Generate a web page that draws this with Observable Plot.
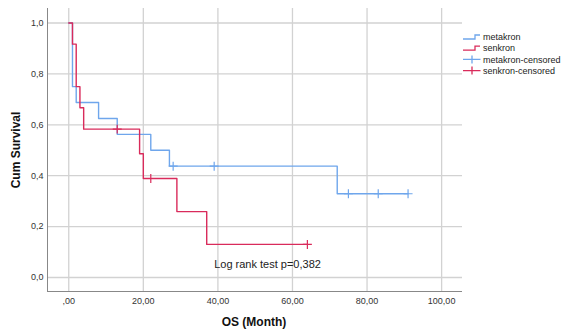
<!DOCTYPE html>
<html>
<head>
<meta charset="utf-8">
<script src="https://cdn.jsdelivr.net/npm/d3@7"></script>
<script src="https://cdn.jsdelivr.net/npm/@observablehq/plot@0.6"></script>
<style>
  html, body { margin: 0; padding: 0; background: #fff; }
  #chart { position: relative; width: 563px; height: 332px; }
  svg { font-family: "Liberation Sans", Arial, sans-serif; }
</style>
</head>
<body>
<div id="chart"></div>
<script>
// ---- data ----
const metakronTime = [0, 1, 2, 8, 13, 22, 27, 72, 91];
const metakronSurv = [1, 0.75, 0.6875, 0.625, 0.5625, 0.5, 0.4375, 0.329, 0.329];
const senkronTime = [0, 1, 2, 3, 4, 19, 20, 29, 37, 64];
const senkronSurv = [1, 0.917, 0.75, 0.667, 0.583, 0.486, 0.389, 0.259, 0.13, 0.13];
const metakronCensTime = [28, 39, 75, 83, 91];
const metakronCensSurv = [0.4375, 0.4375, 0.329, 0.329, 0.329];
const senkronCensTime = [13, 22, 64];
const senkronCensSurv = [0.583, 0.389, 0.13];
const xTicks = [0, 20, 40, 60, 80, 100];
const yTicks = [0, 0.2, 0.4, 0.6, 0.8, 1.0];
const seriesNames = ["metakron", "senkron", "metakron-censored", "senkron-censored"];
const annotation = "Log rank test p=0,382";
const xLabel = "OS (Month)";
const yLabel = "Cum Survival";

const BLUE = "#6fa6ec";
const RED = "#d92b5b";

const toRows = (t, s) => t.map((v, i) => ({t: v, s: s[i]}));
const meta = toRows(metakronTime, metakronSurv);
const senk = toRows(senkronTime, senkronSurv);
const metaC = toRows(metakronCensTime, metakronCensSurv);
const senkC = toRows(senkronCensTime, senkronCensSurv);

const fmtX = d => d === 0 ? ",00" : d.toFixed(2).replace(".", ",");
const fmtY = d => d.toFixed(1).replace(".", ",");

const plot = Plot.plot({
  width: 563,
  height: 332,
  marginLeft: 47,
  marginRight: 101,
  marginTop: 8,
  marginBottom: 41,
  style: {fontFamily: "'Liberation Sans', Arial, sans-serif", fontSize: "9px", color: "#333", background: "#fff", overflow: "visible"},
  x: {domain: [-5.7, 105.6], ticks: xTicks, tickFormat: fmtX, label: null},
  y: {domain: [-0.055, 1.057], ticks: yTicks, tickFormat: fmtY, label: null},
  marks: [
    Plot.gridX(xTicks, {stroke: "#d2d2d2", strokeOpacity: 1, strokeWidth: 1.3}),
    Plot.gridY(yTicks, {stroke: "#d2d2d2", strokeOpacity: 1, strokeWidth: 1.3}),
    Plot.axisX(xTicks, {tickSize: 0, tickPadding: 6, tickFormat: fmtX, fill: "#333", label: null}),
    Plot.axisY(yTicks, {tickSize: 0, tickPadding: 4, tickFormat: fmtY, fill: "#333", label: null}),
    Plot.ruleX([-5.7], {stroke: "#888", strokeWidth: 1}),
    Plot.ruleY([-0.055], {stroke: "#888", strokeWidth: 1}),
    Plot.line(meta, {x: "t", y: "s", curve: "step-after", stroke: BLUE, strokeWidth: 1.4}),
    Plot.line(senk, {x: "t", y: "s", curve: "step-after", stroke: RED, strokeWidth: 1.4}),
    Plot.dot(metaC, {x: "t", y: "s", symbol: "plus", r: 3, stroke: BLUE, strokeWidth: 1.2}),
    Plot.dot(senkC, {x: "t", y: "s", symbol: "plus", r: 3, stroke: RED, strokeWidth: 1.2}),
    Plot.text([annotation], {x: 39, y: 0.05, text: d => d, textAnchor: "start", fontSize: 11, fill: "#222"})
  ]
});

const svg = d3.select(plot);
// axis titles
svg.append("text")
  .attr("x", 254).attr("y", 326)
  .attr("text-anchor", "middle")
  .attr("font-size", 12).attr("font-weight", "bold").attr("fill", "#111")
  .text(xLabel);
svg.append("text")
  .attr("transform", "translate(20,150) rotate(-90)")
  .attr("text-anchor", "middle")
  .attr("font-size", 12).attr("font-weight", "bold").attr("fill", "#111")
  .text(yLabel);

// legend
const colors = [BLUE, RED, BLUE, RED];
const lg = svg.append("g").attr("transform", "translate(463,37)");
seriesNames.forEach((name, i) => {
  const g = lg.append("g").attr("transform", `translate(0,${i * 11.2})`);
  if (i < 2) {
    g.append("path").attr("d", "M0,2H12V-2H17").attr("fill", "none")
      .attr("stroke", colors[i]).attr("stroke-width", 1.3);
  } else {
    g.append("path").attr("d", "M0,0H17.5M9,-4V4").attr("fill", "none")
      .attr("stroke", colors[i]).attr("stroke-width", 1.3);
  }
  g.append("text").attr("x", 20).attr("y", 0).attr("dy", "0.35em")
    .attr("text-anchor", "start")
    .attr("font-size", 9).attr("fill", "#222").text(name);
});

document.getElementById("chart").appendChild(plot);
</script>
</body>
</html>
